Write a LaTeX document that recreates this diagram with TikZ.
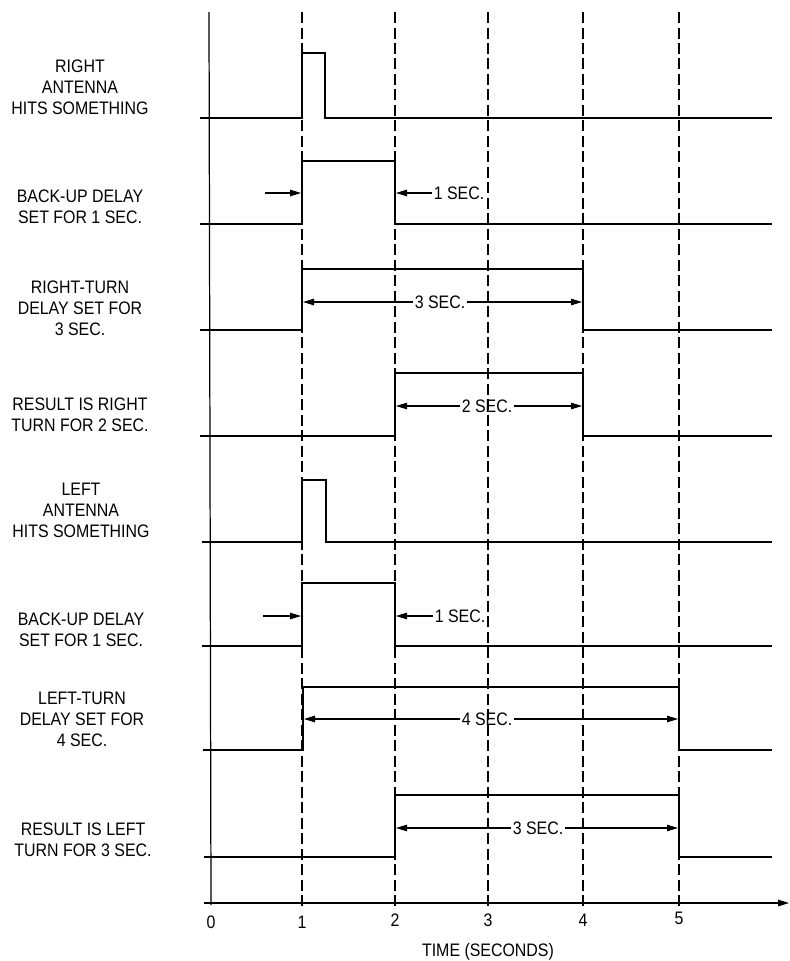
\documentclass[tikz,border=0pt]{standalone}
\usepackage{fontspec}
\setmainfont{Liberation Sans}[FakeStretch=0.88]
\usetikzlibrary{arrows.meta}

\begin{document}
\begin{tikzpicture}[
x=0.02cm, y=-0.02cm,
every node/.style={font=\fontsize{10.3pt}{12pt}\selectfont, inner sep=1pt},
label/.style={align=center},
signal/.style={line width=1.1pt, line join=miter},
grid/.style={line width=0.6pt, dash pattern=on 0.22cm off 0.09cm},
dim/.style={line width=0.6pt, -{Triangle[length=2.2mm, width=1.3mm]}},
axis/.style={line width=0.8pt, -{Triangle[length=2.2mm, width=1.3mm]}}
]
\useasboundingbox (0,0) rectangle (790,961);

\draw[line width=0.7pt] (209,12) -- (211,905);
\draw[grid] (302,12) -- (302,908);
\draw[grid] (395,12) -- (395,908);
\draw[grid] (488,12) -- (488,908);
\draw[grid] (583,12) -- (583,908);
\draw[grid] (679,12) -- (679,908);
\draw[axis] (204,903) -- (789,903);

\node (T0) at (211,922) {0};
\node (T1) at (302,922) {1};
\node (T2) at (395,920) {2};
\node (T3) at (488,920) {3};
\node (T4) at (583,920) {4};
\node (T5) at (679,918) {5};
\node (Time) at (488,952) {TIME (SECONDS)};

\node[label] (L1) at (80,87) {RIGHT\\ANTENNA\\HITS SOMETHING};
\node[label] (L2) at (80,207) {BACK-UP DELAY\\SET FOR 1 SEC.};
\node[label] (L3) at (80,308) {RIGHT-TURN\\DELAY SET FOR\\3 SEC.};
\node[label] (L4) at (80,415) {RESULT IS RIGHT\\TURN FOR 2 SEC.};
\node[label] (L5) at (81,510) {LEFT\\ANTENNA\\HITS SOMETHING};
\node[label] (L6) at (81,630) {BACK-UP DELAY\\SET FOR 1 SEC.};
\node[label] (L7) at (82,719) {LEFT-TURN\\DELAY SET FOR\\4 SEC.};
\node[label] (L8) at (83,840) {RESULT IS LEFT\\TURN FOR 3 SEC.};

\draw[signal] (200,118) -- (302,118) -- (302,53) -- (325,53) -- (325,118) -- (772,118);
\draw[signal] (200,224) -- (302,224) -- (302,161) -- (395,161) -- (395,224) -- (772,224);
\draw[signal] (200,330) -- (302,330) -- (302,269) -- (583,269) -- (583,330) -- (772,330);
\draw[signal] (200,436) -- (395,436) -- (395,373) -- (583,373) -- (583,436) -- (772,436);
\draw[signal] (202,542) -- (302,542) -- (302,480) -- (326,480) -- (326,542) -- (772,542);
\draw[signal] (202,646) -- (302,646) -- (302,583) -- (395,583) -- (395,646) -- (772,646);
\draw[signal] (203,750) -- (303,750) -- (303,687) -- (679,687) -- (679,750) -- (772,750);
\draw[signal] (204,857) -- (395,857) -- (395,795) -- (679,795) -- (679,857) -- (772,857);

\coordinate (B1) at (265,193);
\coordinate (B1e) at (301,193);
\draw[dim] (B1) -- (B1e);
\node (S1) at (459,193) {1 SEC.};
\draw[dim] (S1.west) -- (396,193);

\node (S3) at (440,302) {3 SEC.};
\draw[dim] (S3.west) -- (303,302);
\draw[dim] (S3.east) -- (582,302);

\node (S2) at (487,406) {2 SEC.};
\draw[dim] (S2.west) -- (396,406);
\draw[dim] (S2.east) -- (582,406);

\coordinate (B2) at (263,616);
\coordinate (B2e) at (301,616);
\draw[dim] (B2) -- (B2e);
\node (S4) at (460,616) {1 SEC.};
\draw[dim] (S4.west) -- (396,616);

\node (S5) at (487,719) {4 SEC.};
\draw[dim] (S5.west) -- (304,719);
\draw[dim] (S5.east) -- (678,719);

\node (S6) at (538,828) {3 SEC.};
\draw[dim] (S6.west) -- (396,828);
\draw[dim] (S6.east) -- (678,828);
\end{tikzpicture}
\end{document}
